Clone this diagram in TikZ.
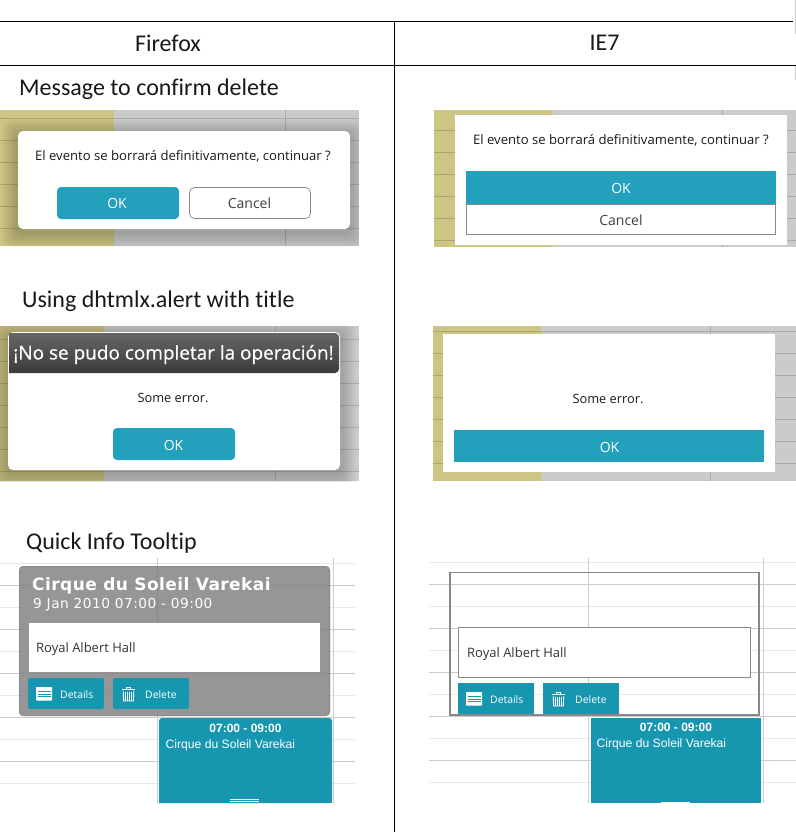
\documentclass[tikz,border=0pt]{standalone}
\usepackage{fontspec}
\setmainfont{Open Sans}
\newfontfamily\carl[Ligatures=NoCommon]{Carlito}
\newfontfamily\lib{Liberation Sans}
\newfontfamily\dvspaced[LetterSpace=2.6]{DejaVu Sans}
\newfontfamily\dvdate[LetterSpace=3.6]{DejaVu Sans}
\newfontfamily\alerttitle[FakeBold=0.5]{Open Sans}
\definecolor{sand}{HTML}{CDC583}
\definecolor{scr}{HTML}{CBCBCB}
\definecolor{scrline}{HTML}{A9A9A9}
\definecolor{sandline}{HTML}{ABA46C}
\definecolor{okblue}{HTML}{22A0BC}
\definecolor{evblue}{HTML}{1796B0}
\definecolor{edge}{HTML}{888888}
\definecolor{gridlt}{HTML}{E8E8E8}
\definecolor{griddk}{HTML}{CCCCCC}
\tikzset{
  x=1pt,y=-1pt,
  rule/.style={draw=black,line width=0.8pt},
  caption/.style={font=\carl\fontsize{24}{28}\selectfont,inner sep=0pt,anchor=west,text=black!90},
  head/.style={font=\carl\fontsize{24}{28}\selectfont,inner sep=0pt,text=black!90},
  msg/.style={font=\fontsize{13.1}{15}\selectfont,inner sep=0pt,text=black!90},
  msgshort/.style={font=\fontsize{12.8}{15}\selectfont,inner sep=0pt,text=black!90},
  btnok/.style={fill=okblue,draw=none,rounded corners=4pt},
  btnsq/.style={fill=okblue,draw=none},
  btncancel/.style={fill=white,draw=edge,line width=0.7pt},
  oktext/.style={font=\fontsize{14}{16}\selectfont,text=white,inner sep=0pt},
  canceltext/.style={font=\fontsize{14}{16}\selectfont,text=black!75,inner sep=0pt},
  dlg/.style={fill=white,draw=none},
  acticon/.style={fill=white,draw=none},
  actbtn/.style={fill=evblue,draw=none},
  acttext/.style={font=\fontsize{10.4}{12}\selectfont,text=white,inner sep=0pt,anchor=west},
  hall/.style={font=\fontsize{13}{15}\selectfont,text=black!80,inner sep=0pt,anchor=west},
  evbox/.style={fill=evblue,draw=none},
  evtime/.style={font=\lib\bfseries\fontsize{12}{14}\selectfont,text=white,inner sep=0pt},
  evname/.style={font=\lib\fontsize{12.15}{14}\selectfont,text=white,inner sep=0pt,anchor=west},
}
% shadow: x0,y0,x1,y1
\newcommand{\softshadow}[4]{%
  \foreach \s in {1,2,...,16}{
    \fill[black,opacity=0.013,rounded corners=8pt]
      ({#1-17+\s},{#2-13+\s}) rectangle ({#3+17-\s},{#4+21-\s});
  }}
% details icon at x,y (top-left)
\newcommand{\detailsicon}[2]{%
  \fill[acticon,rounded corners=0.6pt] (#1,#2) rectangle ({#1+16},{#2+13.5});
  \foreach \d in {4.5,7,9.5}{
    \draw[evblue,line width=0.8pt] ({#1+1.5},{#2+\d}) -- ({#1+14.5},{#2+\d});
  }}
% trash icon at x,y (top-left)
\newcommand{\trashicon}[2]{%
  \draw[white,line width=1pt] ({#1},{#2+2.5}) -- ({#1+13},{#2+2.5});
  \draw[white,line width=0.8pt] ({#1+4.5},{#2+2}) -- ({#1+4.5},{#2+0.4}) -- ({#1+8.5},{#2+0.4}) -- ({#1+8.5},{#2+2});
  \draw[white,line width=0.9pt] ({#1+1.2},{#2+4}) -- ({#1+1.7},{#2+14}) -- ({#1+11.3},{#2+14}) -- ({#1+11.8},{#2+4});
  \foreach \d in {3.6,5.6,7.4,9.4}{
    \draw[white,line width=0.7pt] ({#1+\d},{#2+4.5}) -- ({#1+\d},{#2+13.5});
  }}
\begin{document}
\begin{tikzpicture}
\useasboundingbox (0,0) rectangle (796,839);
\fill[white] (0,0) rectangle (796,839);

% ---------- table ----------
\coordinate (h1l) at (0,21.5);  \coordinate (h1r) at (793,21.5);
\coordinate (h2l) at (0,65.5);  \coordinate (h2r) at (796,65.5);
\coordinate (vt) at (394.5,21.5); \coordinate (vb) at (394.5,832);
\draw[rule] (h1l) -- (h1r);
\draw[rule] (h2l) -- (h2r);
\draw[rule] (vt) -- (vb);
\draw[griddk,line width=0.8pt] (795.5,0) -- (795.5,34);
\draw[griddk,line width=0.8pt] (795.5,66) -- (795.5,80);
\node[head] (firefox) at (168,43) {Firefox};
\node[head] (ie) at (604.5,43) {IE7};

% ---------- screen 1 left ----------
\node[caption] (cap1) at (19,89) {Message to confirm delete};
\begin{scope}
  \clip (0,110) rectangle (359,246);
  \fill[sand] (0,110) rectangle (113.5,246);
  \fill[scr] (113.5,110) rectangle (359,246);
  \foreach \y in {118,140,162,184,206,228}{
    \draw[sandline,line width=0.6pt] (0,\y.5) -- (113.5,\y.5);
    \draw[scrline,line width=0.6pt] (113.5,\y.5) -- (359,\y.5);
  }
  \draw[scrline,line width=0.6pt] (285.5,110) -- (285.5,246);
  \softshadow{18}{131}{350}{229}
\end{scope}
\fill[dlg,rounded corners=5pt] (18,131) rectangle (350,229);
\node[msg] (m1) at (183,156) {El evento se borrará definitivamente, continuar ?};
\path[btnok] (57,187) rectangle (179,219);
\node[oktext] (ok1) at (117,203.5) {OK};
\path[btncancel,rounded corners=5pt] (189.5,187.5) rectangle (310.5,218.5);
\node[canceltext] (c1) at (249.5,203.5) {Cancel};

% ---------- screen 1 right ----------
\begin{scope}
  \clip (434,110) rectangle (796,247);
  \fill[sand] (434,110) rectangle (553,247);
  \fill[scr] (553,110) rectangle (796,247);
  \foreach \y in {130,152,174,196,218,240}{
    \draw[sandline,line width=0.6pt] (434,\y.5) -- (553,\y.5);
    \draw[scrline,line width=0.6pt] (553,\y.5) -- (796,\y.5);
  }
  \draw[scrline,line width=0.6pt] (722.5,110) -- (722.5,247);
\end{scope}
\fill[dlg] (455,115) rectangle (787,245);
\node[msg] (m2) at (621,140.5) {El evento se borrará definitivamente, continuar ?};
\path[btncancel] (466.5,204) rectangle (775.5,234.5);
\path[btnsq] (466,171) rectangle (776,204);
\node[oktext] (ok2) at (621,188) {OK};
\node[canceltext] (c2) at (621,220) {Cancel};

% ---------- screen 2 left ----------
\node[caption] (cap2) at (22,301) {Using dhtmlx.alert with title};
\begin{scope}
  \clip (0,326) rectangle (359,481);
  \fill[sand] (0,326) rectangle (104,481);
  \fill[scr] (104,326) rectangle (359,481);
  \foreach \y in {339,361,383,405,427,449,471}{
    \draw[sandline,line width=0.6pt] (0,\y.5) -- (104,\y.5);
    \draw[scrline,line width=0.6pt] (104,\y.5) -- (359,\y.5);
  }
  \draw[scrline,line width=0.6pt] (275.5,326) -- (275.5,481);
  \softshadow{8}{332}{340}{470}
\end{scope}
\fill[dlg,rounded corners=5pt] (8,332) rectangle (340,470);
\shade[top color=black!60,bottom color=black!77,rounded corners=4pt]
  (9,373) [sharp corners] -- (9,333) [rounded corners=4pt] -- (339,333) -- (339,373) [sharp corners] -- cycle;
\node[font=\alerttitle\fontsize{18.95}{22}\selectfont,text=white,inner sep=0pt] (t2) at (173.5,354.5) {¡No se pudo completar la operación!};
\node[msgshort] (m3) at (173,397.5) {Some error.};
\path[btnok] (113,428) rectangle (235,460);
\node[oktext] (ok3) at (173.5,445) {OK};

% ---------- screen 2 right ----------
\begin{scope}
  \clip (433,326) rectangle (796,481);
  \fill[sand] (433,326) rectangle (541,481);
  \fill[scr] (541,326) rectangle (796,481);
  \foreach \y in {331,353,375,397,419,441,463}{
    \draw[sandline,line width=0.6pt] (433,\y.5) -- (541,\y.5);
    \draw[scrline,line width=0.6pt] (541,\y.5) -- (796,\y.5);
  }
  \draw[scrline,line width=0.6pt] (710.5,326) -- (710.5,481);
\end{scope}
\fill[dlg] (443,334) rectangle (775,472);
\node[msgshort] (m4) at (608,399) {Some error.};
\path[btnsq] (454,430) rectangle (764,462);
\node[oktext] (ok4) at (609.5,447) {OK};

% ---------- screen 3 left ----------
\node[caption] (cap3) at (26,543) {Quick Info Tooltip};
\foreach \y in {563,607,651,695,739,783}{\draw[gridlt,line width=0.7pt] (0,\y.5) -- (355,\y.5);}
\foreach \y in {585,629,673,717,761}{\draw[griddk,line width=0.7pt] (0,\y.5) -- (355,\y.5);}
\draw[griddk,line width=0.7pt] (157.5,558) -- (157.5,803);
\draw[griddk,line width=0.7pt] (333.5,558) -- (333.5,803);
\fill[black!50,fill opacity=0.82,rounded corners=4pt] (19,566) rectangle (330,716);
\draw[black!50,opacity=0.5,line width=1pt,rounded corners=4pt] (19.5,566.5) rectangle (329.5,715.5);
\node[font=\dvspaced\bfseries\fontsize{17}{19}\selectfont,text=white,inner sep=0pt,anchor=west] (tt1) at (32,585.5) {Cirque du Soleil Varekai};
\node[font=\dvdate\fontsize{13.7}{15}\selectfont,text=white,inner sep=0pt,anchor=west] (td1) at (33,605) {9 Jan 2010 07:00 - 09:00};
\fill[white] (29,623) rectangle (320,672);
\node[hall] (h1) at (36,649) {Royal Albert Hall};
\path[actbtn,rounded corners=2pt] (28,678) rectangle (104,709);
\path[actbtn,rounded corners=2pt] (113,678) rectangle (189,709);
\detailsicon{36}{687}
\node[acttext] (d1) at (60,694.5) {Details};
\trashicon{122}{687}
\node[acttext] (e1) at (145,694.5) {Delete};
\path[evbox,rounded corners=3pt] (159,718) -- (332,718) -- (332,803) [sharp corners] -- (159,803) [rounded corners=3pt] -- cycle;
\fill[evblue] (159,795) rectangle (332,803);
\node[evtime] (ev1) at (245.5,728) {07:00 - 09:00};
\node[evname] (en1) at (165.5,745.5) {Cirque du Soleil Varekai};
\draw[white,line width=0.7pt] (230,799.5) -- (259,799.5);
\draw[white,line width=0.7pt] (230,801.5) -- (259,801.5);

% ---------- screen 3 right ----------
\foreach \y in {562,606,650,694,738,782}{\draw[gridlt,line width=0.7pt] (429,\y.5) -- (796,\y.5);}
\foreach \y in {584,628,672,716,760}{\draw[griddk,line width=0.7pt] (429,\y.5) -- (796,\y.5);}
\draw[griddk,line width=0.7pt] (588.5,558) -- (588.5,803);
\draw[griddk,line width=0.7pt] (763.5,558) -- (763.5,803);
\draw[edge,line width=1.6pt] (450,572.5) rectangle (759,715);
\draw[edge,fill=white,line width=0.8pt] (458.5,627.5) rectangle (750.5,677.5);
\node[hall] (h2) at (467,654) {Royal Albert Hall};
\path[actbtn] (458,683) rectangle (534,714);
\path[actbtn] (543,683) rectangle (619,714);
\detailsicon{466}{692}
\node[acttext] (d2) at (490,699.5) {Details};
\trashicon{552}{692}
\node[acttext] (e2) at (575,699.5) {Delete};
\path[evbox] (591,718) rectangle (761,803);
\node[evtime] (ev2) at (676,727.5) {07:00 - 09:00};
\node[evname] (en2) at (596.5,744.5) {Cirque du Soleil Varekai};
\fill[white] (661,802) rectangle (690,803);
\end{tikzpicture}
\end{document}
